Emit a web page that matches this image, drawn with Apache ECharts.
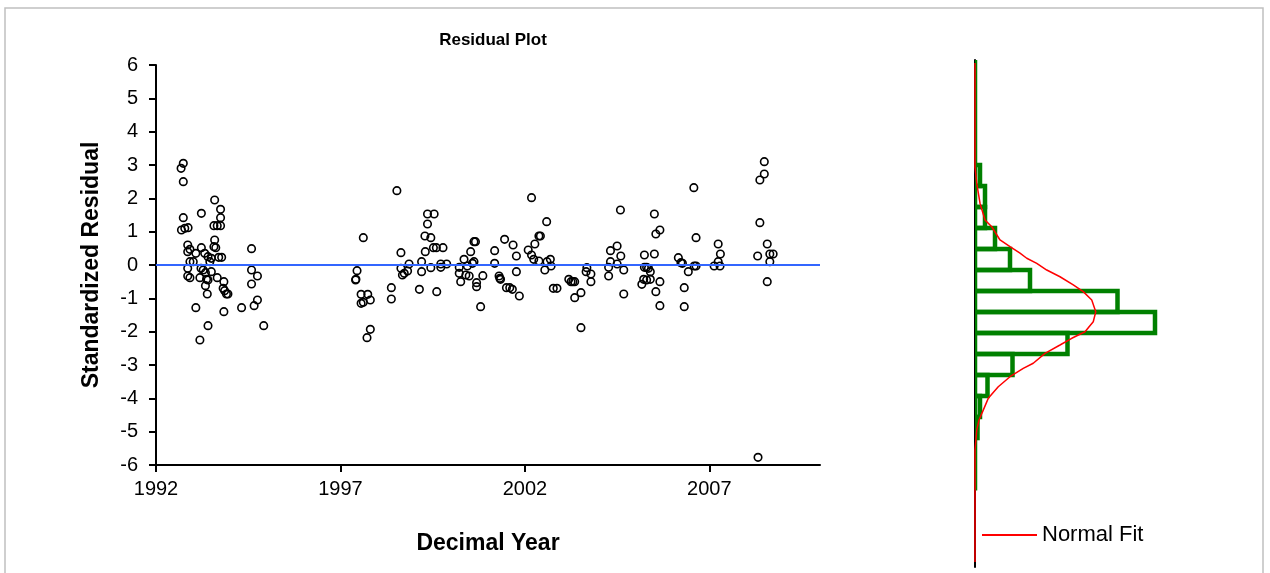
<!DOCTYPE html>
<html>
<head>
<meta charset="utf-8">
<title>Residual Plot</title>
<script src="https://cdn.jsdelivr.net/npm/echarts@6/dist/echarts.min.js"></script>
<style>
  html, body { margin: 0; padding: 0; background: #fff; }
  #chart { width: 1270px; height: 573px; }
</style>
</head>
<body>
<div id="chart"></div>
<script>
// Residuals against decimal year
const decimalYear = [
  1992.74, 1992.68, 1992.74, 1992.74, 1992.69, 1992.78, 1992.87, 1993.23, 1993.59, 1993.75,
  1993.75, 1993.57, 1993.66, 1993.75, 1993.59, 1993.57, 1993.62, 1992.86, 1992.86, 1992.92,
  1993.08, 1993.23, 1993.32, 1993.41, 1993.50, 1993.46, 1993.70, 1993.78, 1992.92, 1993.01,
  1992.86, 1993.22, 1993.28, 1993.34, 1993.50, 1992.86, 1992.92, 1993.19, 1993.37, 1993.41,
  1993.66, 1993.84, 1993.34, 1993.82, 1993.86, 1993.91, 1993.95, 1993.39, 1993.08, 1993.84,
  1993.41, 1993.19, 1994.59, 1994.59, 1994.75, 1994.59, 1994.75, 1994.66, 1994.32, 1994.92,
  1997.45, 1997.42, 1997.41, 1997.62, 1997.56, 1997.74, 1997.81, 1997.56, 1997.62, 1997.81,
  1997.72, 1998.38, 1998.38, 1998.53, 1998.64, 1998.64, 1998.68, 1998.73, 1998.82, 1998.86,
  1999.14, 1999.20, 1999.20, 1999.29, 1999.45, 1999.36, 1999.54, 1999.36, 1999.30, 1999.45,
  1999.52, 1999.60, 1999.78, 1999.61, 1999.72, 1999.72, 1999.88, 2000.22, 2000.22, 2000.26,
  2000.35, 2000.44, 2000.40, 2000.49, 2000.53, 2000.62, 2000.66, 2000.58, 2000.62, 2000.69,
  2000.69, 2000.86, 2000.80, 2001.18, 2001.18, 2001.30, 2001.32, 2001.34, 2001.45, 2001.50,
  2001.59, 2001.66, 2001.68, 2001.77, 2001.77, 2001.85, 2002.18, 2002.09, 2002.18, 2002.27,
  2002.24, 2002.38, 2002.38, 2002.42, 2002.59, 2002.54, 2002.60, 2002.69, 2002.71, 2002.77,
  2002.87, 2003.19, 2003.25, 2003.35, 2003.30, 2003.68, 2003.66, 2003.79, 2003.79, 2003.52,
  2003.35, 2003.52, 2004.27, 2004.27, 2004.32, 2004.32, 2004.50, 2004.50, 2004.59, 2004.60,
  2004.68, 2004.68, 2005.24, 2005.24, 2005.30, 2005.35, 2005.40, 2005.22, 2005.17, 2005.30,
  2005.40, 2005.51, 2005.55, 2005.66, 2005.51, 2005.66, 2005.55, 2005.66, 2006.16, 2006.23,
  2006.27, 2006.43, 2006.32, 2006.32, 2006.58, 2006.64, 2006.59, 2006.64, 2007.13, 2007.24,
  2007.30, 2007.24, 2007.29, 2008.49, 2008.49, 2008.37, 2008.37, 2008.57, 2008.31, 2008.64,
  2008.73, 2008.64, 2008.57, 2008.32
];
const stdResidual = [
   3.05,  2.90,  2.50,  1.42,  1.05,  1.10,  1.12,  1.55,  1.95,  1.67,
   1.42,  1.18,  1.18,  1.18,  0.75,  0.55,  0.52,  0.60,  0.40,  0.47,
   0.35,  0.52,  0.35,  0.25,  0.20,  0.10,  0.23,  0.23,  0.10,  0.10,
  -0.10, -0.10, -0.15, -0.23, -0.20, -0.33, -0.38, -0.38, -0.43, -0.45,
  -0.38, -0.50, -0.62, -0.70, -0.77, -0.87, -0.87, -0.87, -1.28, -1.40,
  -1.82, -2.25,  0.49, -0.15, -0.33, -0.57, -1.05, -1.22, -1.28, -1.82,
  -0.17, -0.43, -0.45,  0.82, -0.88, -0.88, -1.05, -1.15, -1.12, -1.93,
  -2.18, -0.68, -1.02,  2.23,  0.37, -0.10, -0.30, -0.25, -0.18,  0.03,
  -0.73,  0.10, -0.20,  0.87,  0.82,  1.53,  1.53,  1.23,  0.40, -0.08,
   0.52,  0.52,  0.52, -0.80,  0.03, -0.07,  0.03, -0.07, -0.25, -0.50,
   0.17, -0.03, -0.30, -0.33,  0.40,  0.70,  0.70,  0.05,  0.10, -0.53,
  -0.65, -0.32, -1.25,  0.43,  0.05, -0.33, -0.40, -0.43,  0.77, -0.68,
  -0.68, -0.73,  0.60,  0.27, -0.20, -0.93,  2.02,  0.45,  0.30,  0.63,
   0.17,  0.12,  0.87,  0.87,  1.30, -0.15,  0.10,  0.17, -0.03, -0.70,
  -0.70, -0.43, -0.50, -0.50, -0.50, -0.08, -0.20, -0.27, -0.50, -0.83,
  -0.98, -1.88, -0.07, -0.33,  0.43,  0.10,  0.57,  0.03,  1.65,  0.27,
  -0.15, -0.87,  0.30, -0.07, -0.07, -0.10, -0.20, -0.43, -0.58, -0.45,
  -0.43,  1.53,  0.93,  1.05,  0.33, -0.50, -0.80, -1.22,  0.22,  0.07,
   0.05, -0.20, -0.68, -1.25,  2.32,  0.82, -0.03, -0.03, -0.03,  0.63,
   0.33,  0.10, -0.03,  3.10,  2.73,  2.55,  1.27,  0.63,  0.27,  0.33,
   0.33,  0.10, -0.50, -5.77
];
const yearTicks = [1992, 1997, 2002, 2007];

// Side histogram: bins counted down from the top of the panel
const binFrom  = [0, 1, 2, 3, 4, 5, 6, 7, 8, 9, 10, 11, 12, 13, 14, 15, 16, 17, 18, 19, 20];
const binTo    = [1, 2, 3, 4, 5, 6, 7, 8, 9, 10, 11, 12, 13, 14, 15, 16, 17, 18, 19, 20, 20.5];
const binCount = [0, 0, 0, 0, 0, 2, 4, 4, 8, 14, 22, 57, 72, 37, 15, 5, 2, 1, 0, 0, 0];

// Normal fit curve over the histogram: [count, bin position]
const fitCount = [0, 0, 0.7, 2.0, 4.0, 6.7, 10.0, 14.0, 18.0, 20.7, 24.7, 28.7, 34.0, 39.3, 43.3,
  46.7, 48.3, 47.3, 44.0, 38.7, 34.0, 28.0, 23.3, 19.3, 14.0, 9.3, 5.3, 3.3, 1.6, 0.7, 0, 0];
const fitBin = [0.14, 5.10, 5.87, 6.82, 7.62, 7.94, 8.57, 8.89, 9.20, 9.44, 9.68, 10.0, 10.32, 10.71, 11.03,
  11.43, 11.99, 12.46, 12.94, 13.25, 13.57, 13.97, 14.44, 14.68, 15.08, 15.56, 16.11, 16.67, 17.14, 17.62, 18.57, 23.90];

const FONT = '"Liberation Sans", Arial, Helvetica, sans-serif';

const points = decimalYear.map((x, i) => [x, stdResidual[i]]);
const bins = binFrom.map((f, i) => [f, binTo[i], binCount[i]]);
const fitLine = fitCount.map((c, i) => [c, fitBin[i]]);

const chart = echarts.init(document.getElementById('chart'), null, { renderer: 'canvas' });

chart.setOption({
  animation: false,
  backgroundColor: '#ffffff',
  textStyle: { fontFamily: FONT, color: '#000' },
  title: {
    text: 'Residual Plot',
    left: 488,
    top: 27,
    textAlign: 'center',
    textStyle: { fontFamily: FONT, fontSize: 17, fontWeight: 'bold', color: '#000' }
  },
  legend: {
    left: 982,
    top: 524,
    padding: 0,
    itemWidth: 55,
    itemHeight: 2,
    itemGap: 5,
    selectedMode: false,
    data: [{ name: 'Normal Fit', icon: 'rect' }],
    textStyle: { fontFamily: FONT, fontSize: 22, color: '#000', padding: [0, 0, 0, 0] }
  },
  graphic: [{
    type: 'rect',
    silent: true,
    shape: { x: 5, y: 8, width: 1258, height: 600 },
    style: { fill: 'none', stroke: '#c0c0c0', lineWidth: 1.5 }
  }],
  grid: [
    { left: 156, top: 65, width: 664, height: 400 },
    { left: 975, top: 60, width: 200, height: 507 }
  ],
  xAxis: [
    {
      gridIndex: 0,
      type: 'value',
      min: 1992,
      max: 2010,
      interval: 5,
      name: 'Decimal Year',
      nameLocation: 'middle',
      nameGap: 67,
      nameTextStyle: { fontFamily: FONT, fontSize: 23, fontWeight: 'bold', color: '#000' },
      splitLine: { show: false },
      axisLine: { onZero: false, lineStyle: { color: '#000', width: 2 } },
      axisTick: { show: true, length: 7, lineStyle: { color: '#000', width: 2 }, customValues: yearTicks },
      axisLabel: {
        fontFamily: FONT, fontSize: 20, color: '#000', margin: 14, customValues: yearTicks,
        formatter: function (v) { return String(v); }
      }
    },
    {
      gridIndex: 1,
      type: 'value',
      min: 0,
      max: 80,
      show: false
    }
  ],
  yAxis: [
    {
      gridIndex: 0,
      type: 'value',
      min: -6,
      max: 6,
      interval: 1,
      name: 'Standardized Residual',
      nameLocation: 'middle',
      nameGap: 53,
      nameTextStyle: { fontFamily: FONT, fontSize: 23, fontWeight: 'bold', color: '#000' },
      splitLine: { show: false },
      axisLine: { onZero: false, lineStyle: { color: '#000', width: 2 } },
      axisTick: { show: true, length: 7, lineStyle: { color: '#000', width: 2 } },
      axisLabel: { fontFamily: FONT, fontSize: 20, color: '#000', margin: 18 }
    },
    {
      gridIndex: 1,
      type: 'value',
      inverse: true,
      min: 0,
      max: 24.14,
      splitLine: { show: false },
      axisTick: { show: false },
      axisLabel: { show: false },
      axisLine: { show: true, onZero: false, lineStyle: { color: '#000', width: 2 } }
    }
  ],
  series: [
    {
      name: 'Residuals',
      type: 'scatter',
      xAxisIndex: 0,
      yAxisIndex: 0,
      data: points,
      symbol: 'circle',
      symbolSize: 7.5,
      silent: true,
      itemStyle: { color: 'rgba(255,255,255,0)', borderColor: '#000', borderWidth: 1.6, opacity: 1 },
      markLine: {
        silent: true,
        symbol: 'none',
        label: { show: false },
        lineStyle: { color: '#3366ff', width: 2, type: 'solid' },
        data: [{ yAxis: 0 }]
      }
    },
    {
      name: 'Histogram',
      type: 'custom',
      xAxisIndex: 1,
      yAxisIndex: 1,
      clip: true,
      silent: true,
      data: bins,
      encode: { x: 2, y: [0, 1] },
      renderItem: function (params, api) {
        const top = api.coord([0, api.value(0)]);
        const bottom = api.coord([api.value(2), api.value(1)]);
        return {
          type: 'rect',
          shape: { x: top[0], y: top[1], width: bottom[0] - top[0], height: bottom[1] - top[1] },
          style: { fill: 'none', stroke: '#008000', lineWidth: 4.5 }
        };
      }
    },
    {
      name: 'Normal Fit',
      type: 'line',
      xAxisIndex: 1,
      yAxisIndex: 1,
      data: fitLine,
      showSymbol: false,
      symbol: 'none',
      silent: true,
      clip: false,
      itemStyle: { color: '#ff0000' },
      lineStyle: { color: '#ff0000', width: 1.5 }
    }
  ]
});
</script>
</body>
</html>
